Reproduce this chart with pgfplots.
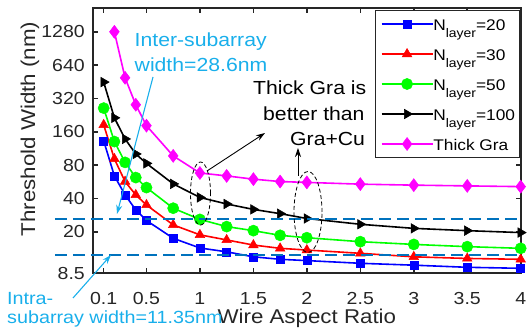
\documentclass[border=0pt]{standalone}
\usepackage{pgfplots}
\pgfplotsset{compat=1.18}
\usepackage{fontspec}
\setmainfont{Liberation Sans}[FakeStretch=1.12]
\usetikzlibrary{arrows.meta}
\definecolor{axc}{RGB}{38,38,38}
\definecolor{cy}{RGB}{25,175,235}
\definecolor{mb}{RGB}{0,114,189}
\definecolor{mag}{RGB}{255,0,255}
\definecolor{gr}{RGB}{0,255,0}
\definecolor{rd}{RGB}{255,0,0}
\definecolor{bl}{RGB}{0,0,255}
\newcommand{\Nl}[1]{N\raisebox{-6.5bp}{\fontsize{12.5}{12.5}\selectfont layer}=#1}

\begin{document}
\begin{tikzpicture}
\begin{axis}[
 at={(0,0)}, anchor=south west,
 scale only axis, width=427.7bp, height=265bp,
 xmin=0, xmax=4, ymode=log, ymin=8.5, ymax=2100,
 clip=false,
 xtick={0.1,0.5,1,1.5,2,2.5,3,3.5,4},
 xticklabels={0.1,0.5,1,1.5,2,2.5,3,3.5,4},
 ytick={8.5,20,40,80,160,320,640,1280},
 yticklabels={8.5,20,40,80,160,320,640,1280},
 tick align=inside, major tick length=5bp,
 axis line style={line width=1.8bp, axc},
 every tick/.style={line width=1.5bp, axc},
 ticklabel style={font=\fontsize{17.5}{17.5}\selectfont, text=axc, inner sep=0pt},
 xticklabel style={anchor=base, yshift=-31bp},
 yticklabel style={anchor=east, xshift=-8bp},
 xlabel={Wire Aspect Ratio}, ylabel={Threshold Width (nm)},
 label style={font=\fontsize{20}{20}\selectfont, text=axc, inner sep=0pt},
 xlabel style={at={(rel axis cs:0.5,0)}, anchor=base, yshift=-50bp},
 ylabel style={at={(rel axis cs:-0.1473,0.5434)}, anchor=center},
 legend style={at={(rel axis cs:1,1)}, anchor=north east, yshift=-2bp,
   font=\fontsize{15.5}{15.5}\selectfont, draw=axc, line width=1.3bp, fill=white,
   inner xsep=5bp, inner ysep=6bp, row sep=15.3bp,
   nodes={inner sep=0pt, text height=14bp, text depth=0.7bp}},
 legend cell align=left,
 legend image code/.code={\draw[mark repeat=2,mark phase=2] plot coordinates {(0bp,0bp) (25.5bp,0bp) (51bp,0bp)};},
]
\addplot[bl, line width=1.6bp, mark=square*, mark size=4bp, mark options={solid, fill=bl, line width=0.5bp}] coordinates {
(0.1,132.7) (0.2,64.0) (0.3,43.1) (0.4,31.6) (0.5,25.3) (0.75,17.5) (1,14.3) (1.25,13.2) (1.5,11.9) (1.75,11.3) (2,11.0) (2.5,10.4) (3,10.0) (3.5,9.57) (4,9.37)};
\addplot[rd, line width=1.6bp, mark=triangle*, mark size=5.5bp, mark options={solid, fill=rd, line width=0.5bp}] coordinates {
(0.1,185) (0.2,91.2) (0.3,56.9) (0.4,43.1) (0.5,35.0) (0.75,23.1) (1,18.8) (1.25,16.9) (1.5,15.2) (1.75,14.2) (2,13.7) (2.5,12.8) (3,11.9) (3.5,11.5) (4,11.3)};
\addplot[gr, line width=1.6bp, mark=*, mark size=5.6bp, mark options={solid, fill=gr, line width=0.5bp}] coordinates {
(0.1,262) (0.2,130.7) (0.3,84.8) (0.4,61.8) (0.5,50.2) (0.75,32.7) (1,25.9) (1.25,22.3) (1.5,20.5) (1.75,18.6) (2,17.7) (2.5,16.3) (3,15.4) (3.5,14.7) (4,14.2)};
\addplot[black, line width=1.6bp, mark=triangle*, mark size=5.5bp, mark options={solid, fill=black, line width=0.5bp, rotate=-90}] coordinates {
(0.1,450) (0.2,214) (0.3,138) (0.4,101) (0.5,83) (0.75,54.2) (1,40.9) (1.25,35.7) (1.5,31.9) (1.75,29.2) (2,26.4) (2.5,23.4) (3,21.5) (3.5,20.5) (4,19.7)};
\addplot[mag, line width=1.6bp, mark=diamond*, mark size=6.5bp, mark options={solid, fill=mag, line width=0.5bp}] coordinates {
(0.2,1280) (0.3,492) (0.4,281) (0.5,182) (0.75,97) (1,68) (1.25,64) (1.5,59.8) (1.75,56.9) (2,55.9) (2.5,53.9) (3,52.8) (3.5,52.0) (4,51.2)};
\legend{\Nl{20},\Nl{30},\Nl{50},\Nl{100},Thick Gra}
\end{axis}
\begin{scope}[shift={(-93bp,273bp)}, x=1bp, y=-1bp]
 \draw[mb, line width=1.3bp, dash pattern=on 12bp off 6bp] (55,219) -- (520.7,219);
 \draw[mb, line width=1.3bp, dash pattern=on 12bp off 6bp] (55,255) -- (520.7,255);
 \begin{scope}[every node/.style={anchor=base west, inner sep=0pt, font=\fontsize{19}{19}\selectfont}]
 \node[cy] at (134.5,46.7) {Inter-subarray};
 \node[cy] at (134.5,71.7) {width=28.6nm};
 \node[cy, font=\fontsize{17.7}{17.7}\selectfont] at (7,305) {Intra-};
 \node[cy, font=\fontsize{17.7}{17.7}\selectfont] at (7,323.3) {subarray width=11.35nm};
 \node[black] at (253,95) {Thick Gra is};
 \node[black] at (263,120.7) {better than};
 \node[black] at (290,145.7) {Gra+Cu};
 \end{scope}
 \draw[cy, line width=1.1bp, -{Stealth[length=9bp,width=6bp]}] (153,77) -- (117,214);
 \draw[cy, line width=1.1bp, -{Stealth[length=9bp,width=6bp]}] (73,298) -- (111,255);
 \draw[black, line width=0.9bp, -{Stealth[length=9bp,width=6bp]}] (207,171) -- (265,133);
 \draw[black, line width=0.9bp, -{Stealth[length=9bp,width=6bp]}] (298,176) -- (298,148);
 \draw[black, line width=0.8bp, dash pattern=on 4bp off 2.5bp] (200.5,193.5) ellipse [x radius=10bp, y radius=31.5bp];
 \draw[black, line width=0.8bp, dash pattern=on 4bp off 2.5bp] (308,212) ellipse [x radius=14bp, y radius=40.5bp];
\end{scope}
\pgfresetboundingbox
\useasboundingbox (-93bp,-58bp) rectangle (434bp,273bp);
\end{tikzpicture}
\end{document}
